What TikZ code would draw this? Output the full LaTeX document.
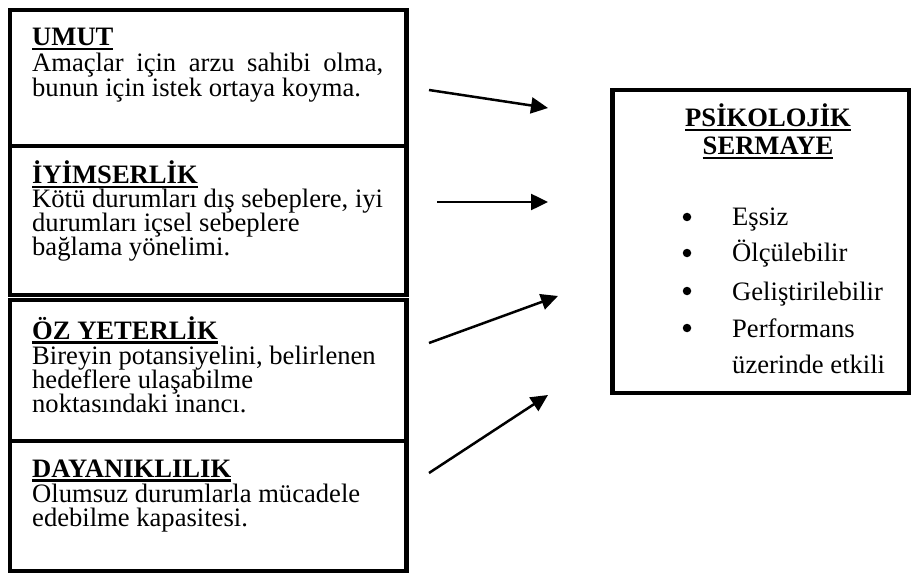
\documentclass[tikz,border=0pt]{standalone}
\usepackage{fontspec}
\setmainfont{Liberation Serif}
\usetikzlibrary{arrows.meta}
\newcommand{\myul}[1]{\setbox0\hbox{#1}\rlap{\rule[-4.5bp]{\wd0}{2.2bp}}\box0}
\begin{document}
\begin{tikzpicture}[x=1bp,y=-1bp,
  box/.style={draw, line width=4.5bp, inner sep=0, outer sep=0, anchor=north west},
  ttl/.style={font=\fontsize{26.7}{24}\selectfont\bfseries, inner sep=0, anchor=base west},
  txt/.style={font=\fontsize{26.7}{24}\selectfont, inner sep=0, anchor=base west},
  arr/.style={line width=2.5bp, -{Triangle[length=17bp,width=16bp]}},
  bul/.style={circle, fill, inner sep=0, minimum size=8.5bp}]
\useasboundingbox (0,0) rectangle (913,574);

% left boxes
\node[box, minimum width=396.5bp, minimum height=136bp] (b1) at (10,10) {};
\node[box, minimum width=396.5bp, minimum height=149bp] (b2) at (10,146) {};
\node[box, minimum width=396.5bp, minimum height=141bp] (b3) at (10,300) {};
\node[box, minimum width=396.5bp, minimum height=130bp] (b4) at (10,441) {};

% box 1
\node[ttl] (t1) at (32,46) {\myul{UMUT}};
\node[txt] (l11) at (32,72) {\makebox[351bp][s]{Amaçlar için arzu sahibi olma,}};
\node[txt] (l12) at (32,97) {bunun için istek ortaya koyma.};

% box 2
\node[ttl] (t2) at (32,184) {\myul{İYİMSERLİK}};
\node[txt] (l21) at (32,208) {Kötü durumları dış sebeplere, iyi};
\node[txt] (l22) at (32,232) {durumları içsel sebeplere};
\node[txt] (l23) at (32,256) {bağlama yönelimi.};

% box 3
\node[ttl] (t3) at (32,339) {\myul{ÖZ YETERLİK}};
\node[txt] (l31) at (32,364) {Bireyin potansiyelini, belirlenen};
\node[txt] (l32) at (32,388) {hedeflere ulaşabilme};
\node[txt] (l33) at (32,412) {noktasındaki inancı.};

% box 4
\node[ttl] (t4) at (32,477) {\myul{DAYANIKLILIK}};
\node[txt] (l41) at (32,502) {Olumsuz durumlarla mücadele};
\node[txt] (l42) at (32,526) {edebilme kapasitesi.};

% right box
\node[box, minimum width=296.5bp, minimum height=303bp] (ps) at (612.5,90) {};
\node[ttl, anchor=base] (pt1) at (768,127) {\myul{PSİKOLOJİK}};
\node[ttl, anchor=base] (pt2) at (768,155) {\myul{SERMAYE}};

\node[bul] (d1) at (687,217) {};
\node[bul] (d2) at (687,253) {};
\node[bul] (d3) at (687,291) {};
\node[bul] (d4) at (687,328) {};
\node[txt] (i1) at (732,226) {Eşsiz};
\node[txt] (i2) at (732,262) {Ölçülebilir};
\node[txt] (i3) at (732,300) {Geliştirilebilir};
\node[txt] (i4) at (732,337) {Performans};
\node[txt] (i5) at (732,373) {üzerinde etkili};

% arrows
\coordinate (a1s) at (429,90);  \coordinate (a1e) at (548,108);
\coordinate (a2s) at (437,202); \coordinate (a2e) at (548,202);
\coordinate (a3s) at (429,343); \coordinate (a3e) at (558,296);
\coordinate (a4s) at (429,473); \coordinate (a4e) at (548,395);
\draw[arr] (a1s) -- (a1e);
\draw[arr] (a2s) -- (a2e);
\draw[arr] (a3s) -- (a3e);
\draw[arr] (a4s) -- (a4e);
\end{tikzpicture}
\end{document}
